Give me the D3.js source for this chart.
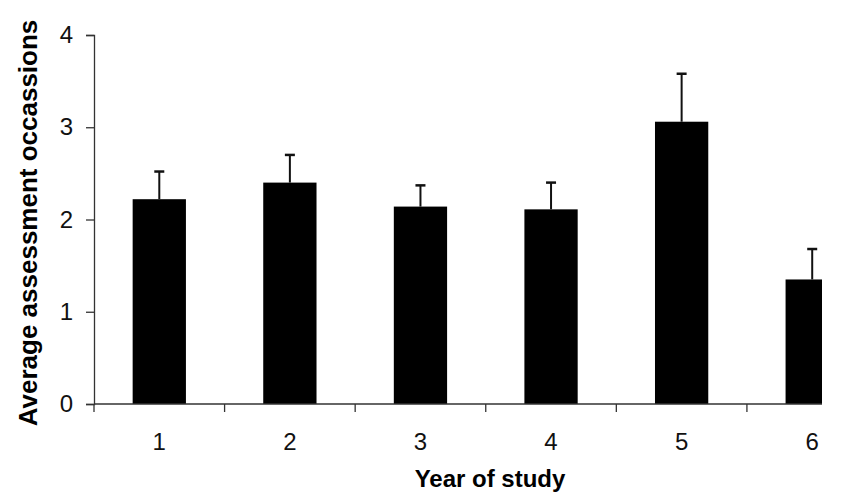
<!DOCTYPE html>
<html>
<head>
<meta charset="utf-8">
<script src="https://cdn.jsdelivr.net/npm/d3@7"></script>
<style>
  body { margin: 0; background: #fff; }
  text { font-family: "Liberation Sans", Arial, sans-serif; }
</style>
</head>
<body>
<div id="chart"></div>
<script>
// data
var years = ["1", "2", "3", "4", "5", "6"];
var means = [2.22, 2.40, 2.14, 2.11, 3.06, 1.35];
var upper = [2.52, 2.70, 2.37, 2.40, 3.58, 1.68];
var yTicks = [0, 1, 2, 3, 4];

var width = 842,
    height = 504;

var plotLeft = 94, plotBottom = 404, plotTop = 35;
var plotRight = 877.5;   // the source image is cropped before the last band ends
var cropX = 822;

var svg = d3.select("#chart")
  .append("svg")
    .attr("width", width)
    .attr("height", height);

svg.append("defs").append("clipPath")
    .attr("id", "crop")
  .append("rect")
    .attr("x", 0).attr("y", 0)
    .attr("width", cropX).attr("height", height);

var x = d3.scaleBand()
  .domain(years)
  .range([plotLeft, plotRight])
  .paddingInner(0.592)
  .paddingOuter(0.296);

var y = d3.scaleLinear()
  .domain([0, 4])
  .range([plotBottom, plotTop]);

var plot = svg.append("g").attr("clip-path", "url(#crop)");

// bars
plot.selectAll("rect.bar")
  .data(years)
  .enter()
  .append("rect")
    .attr("class", "bar")
    .attr("x", function(d) { return x(d); })
    .attr("y", function(d, i) { return y(means[i]); })
    .attr("width", x.bandwidth())
    .attr("height", function(d, i) { return y(0) - y(means[i]); })
    .attr("fill", "#000");

// error bars (upper only)
var cx = function(d) { return x(d) + x.bandwidth() / 2; };
plot.selectAll("line.err")
  .data(years)
  .enter()
  .append("line")
    .attr("x1", cx).attr("x2", cx)
    .attr("y1", function(d, i) { return y(means[i]); })
    .attr("y2", function(d, i) { return y(upper[i]); })
    .attr("stroke", "#111")
    .attr("stroke-width", 2);

plot.selectAll("line.cap")
  .data(years)
  .enter()
  .append("line")
    .attr("x1", function(d) { return cx(d) - 5; })
    .attr("x2", function(d) { return cx(d) + 5; })
    .attr("y1", function(d, i) { return y(upper[i]); })
    .attr("y2", function(d, i) { return y(upper[i]); })
    .attr("stroke", "#111")
    .attr("stroke-width", 2.5);

// x axis: baseline, ticks at band boundaries, labels in band centres
plot.append("line")
  .attr("x1", plotLeft).attr("x2", plotRight)
  .attr("y1", plotBottom).attr("y2", plotBottom)
  .attr("stroke", "#333")
  .attr("stroke-width", 1.3);

var step = x.step();
var bounds = years.map(function(d) { return x(d) - step * x.paddingInner() / 2; });
bounds.push(plotRight);

plot.selectAll("line.xtick")
  .data(bounds)
  .enter()
  .append("line")
    .attr("x1", function(d) { return d; })
    .attr("x2", function(d) { return d; })
    .attr("y1", plotBottom)
    .attr("y2", plotBottom + 8)
    .attr("stroke", "#333")
    .attr("stroke-width", 1.3);

svg.selectAll("text.xlab")
  .data(years)
  .enter()
  .append("text")
    .attr("x", cx)
    .attr("y", 450)
    .attr("text-anchor", "middle")
    .style("font-size", "24px")
    .attr("fill", "#111")
    .text(function(d) { return d; });

// y axis
var yAxis = svg.append("g")
  .attr("transform", "translate(" + plotLeft + ",0)")
  .call(d3.axisLeft(y).tickValues(yTicks).tickSize(8).tickPadding(13).tickFormat(d3.format("d")));

yAxis.select(".domain").attr("stroke", "#333").attr("stroke-width", 1.3);
yAxis.selectAll(".tick line").attr("stroke", "#333").attr("stroke-width", 1.3);
yAxis.selectAll(".tick text")
  .style("font-size", "24px")
  .attr("fill", "#111")
  .attr("font-family", "Liberation Sans, Arial, sans-serif");

// axis titles
svg.append("text")
  .attr("x", 490)
  .attr("y", 487)
  .attr("text-anchor", "middle")
  .style("font-size", "24px")
  .style("font-weight", "bold")
  .text("Year of study");

svg.append("text")
  .attr("transform", "translate(37,223) rotate(-90)")
  .attr("text-anchor", "middle")
  .style("font-size", "26px")
  .style("font-weight", "bold")
  .text("Average assessment occassions");
</script>
</body>
</html>
